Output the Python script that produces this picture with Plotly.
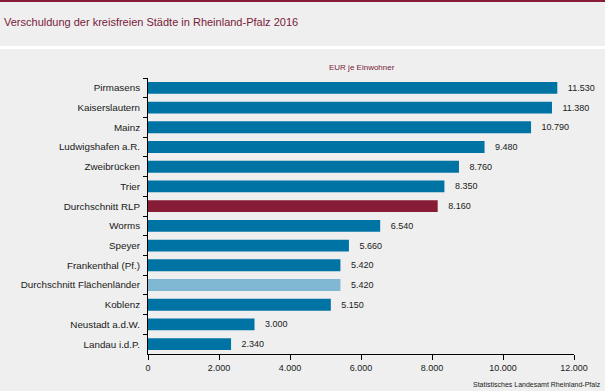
import plotly.graph_objects as go

categories = ["Pirmasens", "Kaiserslautern", "Mainz", "Ludwigshafen a.R.", "Zweibrücken",
              "Trier", "Durchschnitt RLP", "Worms", "Speyer", "Frankenthal (Pf.)",
              "Durchschnitt Flächenländer", "Koblenz", "Neustadt a.d.W.", "Landau i.d.P."]
values = [11530, 11380, 10790, 9480, 8760, 8350, 8160, 6540, 5660, 5420, 5420, 5150, 3000, 2340]
tick_vals = [0, 2000, 4000, 6000, 8000, 10000, 12000]

BLUE = "#0073a5"
RED = "#861c35"
LIGHT = "#80b8d4"
colors = [RED if c == "Durchschnitt RLP" else LIGHT if c == "Durchschnitt Flächenländer" else BLUE
          for c in categories]
labels = ["   " + f"{v:,}".replace(",", ".") for v in values]

fig = go.Figure(go.Bar(
    y=categories, x=values, orientation="h",
    marker=dict(color=colors, line=dict(width=0)),
    text=labels, textposition="outside", cliponaxis=False,
    textfont=dict(family="Liberation Sans, Arial", size=9, color="#1a1a1a"),
    width=0.6,
))

fig.update_layout(
    width=605, height=391,
    margin=dict(l=148, r=31, t=78, b=37),
    paper_bgcolor="#eeefee", plot_bgcolor="#eeefee",
    separators=",.",
    showlegend=False,
    font=dict(family="Liberation Sans, Arial", color="#1a1a1a"),
    xaxis=dict(range=[0, 12000], tickvals=tick_vals, tickformat=",d",
               showgrid=False, zeroline=False, showline=True, linecolor="#000", linewidth=1,
               ticks="outside", ticklen=5, tickcolor="#000",
               tickfont=dict(size=9, color="#1a1a1a")),
    yaxis=dict(autorange="reversed", showgrid=False, showline=True, linecolor="#000", linewidth=1,
               ticks="outside", ticklen=4, tickcolor="#000", tickson="boundaries",
               ticklabelstandoff=5,
               tickfont=dict(size=9.8, color="#1a1a1a")),
    shapes=[
        dict(type="rect", xref="paper", yref="paper", x0=-148/426, x1=1+31/426,
             y0=1+(78-46)/276, y1=1+(78-49)/276, fillcolor="#ffffff", line=dict(width=0), layer="below"),
        dict(type="rect", xref="paper", yref="paper", x0=-148/426, x1=1+31/426,
             y0=1+(78-0)/276, y1=1+(78-2)/276, fillcolor="#861c35", line=dict(width=0), layer="below"),
    ],
    annotations=[
        dict(text="Verschuldung der kreisfreien Städte in Rheinland-Pfalz 2016", xref="paper", yref="paper",
             x=-146/426, y=1+(78-22)/276, xanchor="left", yanchor="middle", showarrow=False,
             font=dict(size=11, color="#7a1a3a")),
        dict(text="EUR je Einwohner", xref="paper", yref="paper",
             x=(362-148)/426, y=1+(78-67)/276, xanchor="center", yanchor="middle", showarrow=False,
             font=dict(size=8, color="#7a1a3a")),
        dict(text="Statistisches Landesamt Rheinland-Pfalz", xref="paper", yref="paper",
             x=1+29/426, y=-(384-354)/276, xanchor="right", yanchor="middle", showarrow=False,
             font=dict(size=7, color="#1a1a1a")),
    ],
)

fig.write_html("out.html", config={"displayModeBar": False},
               post_script="document.body.style.margin='0';")
